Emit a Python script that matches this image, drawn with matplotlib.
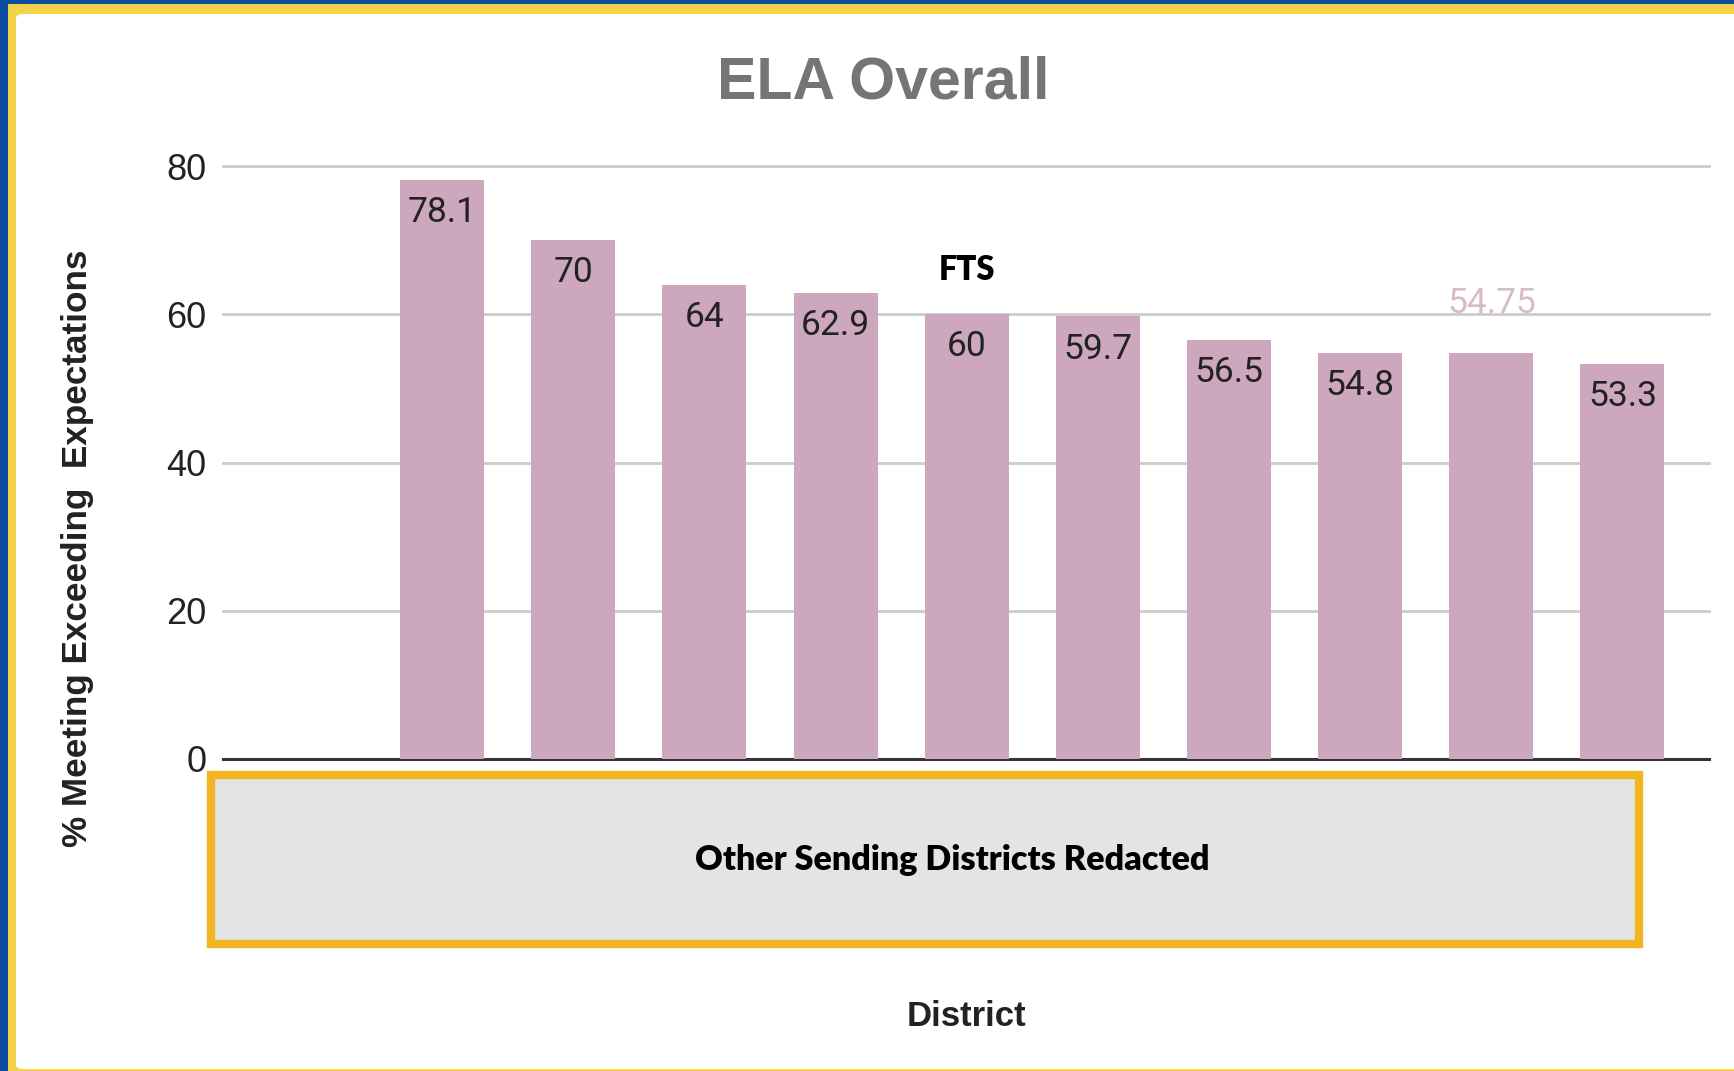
import matplotlib
matplotlib.use("Agg")
import matplotlib.pyplot as plt
from matplotlib.patches import Rectangle, FancyBboxPatch

# ---- data ----
districts = ["", "D1", "D2", "D3", "D4", "FTS", "D6", "D7", "D8", "D9", "D10"]
values = [None, 78.1, 70, 64, 62.9, 60, 59.7, 56.5, 54.8, 54.75, 53.3]
bar_labels = ["", "78.1", "70", "64", "62.9", "60", "59.7", "56.5", "54.8", "", "53.3"]
yticks = [0, 20, 40, 60, 80]
title = "ELA Overall"
ylabel = "% Meeting Exceeding  Expectations"
xlabel = "District"
highlight_name = "FTS"
floating_label = "54.75"
redact_text = "Other Sending Districts Redacted"

W, H = 1734, 1071
fig = plt.figure(figsize=(W / 100, H / 100), dpi=100)
fig.patch.set_facecolor("white")

# ---- frame ----
blue = "#0B4E9F"
yellow = "#F5D349"
fig.patches.append(Rectangle((0, 0), 1, 1, transform=fig.transFigure,
                             facecolor=blue, edgecolor="none", zorder=-10))
fig.patches.append(Rectangle((8 / W, 0), 1, 1 - 4 / H, transform=fig.transFigure,
                             facecolor=yellow, edgecolor="none", zorder=-9))
fig.patches.append(FancyBboxPatch((16 / W, 2 / H), 1 - 16 / W + 0.02, 1 - 14 / H - 2 / H,
                                  boxstyle="round,pad=0,rounding_size=0.004",
                                  transform=fig.transFigure, facecolor="white",
                                  edgecolor="none", zorder=-8))

# ---- axes ----
ax = fig.add_axes([223 / W, 1 - 759 / H, (1709 - 223) / W, (759 - 166) / H])
ax.set_facecolor("none")
x = list(range(len(districts)))
hvals = [v if v is not None else 0 for v in values]
bars = ax.bar(x, hvals, width=0.64, color="#CDA7BE", zorder=3)
ax.set_xlim(-0.671, 10.66)
ax.set_ylim(0, 80)
ax.set_yticks(yticks)
ax.set_yticklabels([str(t) for t in yticks], fontsize=26, family="Liberation Sans", color="#222222")
ax.tick_params(axis="y", length=0, pad=12)
ax.set_xticks([])
for s in ax.spines.values():
    s.set_visible(False)
for t in yticks[1:]:
    ax.axhline(t, color="#CCCCCC", lw=2, zorder=1, clip_on=False)
ax.axhline(0, color="#333333", lw=2.2, zorder=2, clip_on=False)

for b, lab in zip(bars, bar_labels):
    if lab:
        ax.annotate(lab, (b.get_x() + b.get_width() / 2, b.get_height()),
                    xytext=(0, -23.5), textcoords="offset points", ha="center", va="center",
                    fontsize=25.5, family="Roboto", color="#222222", zorder=5)

# FTS label above its bar
fi = districts.index(highlight_name)
ax.annotate(highlight_name, (x[fi], values[fi]), xytext=(0, 32), textcoords="offset points",
            ha="center", va="center", fontsize=23.5, family="Lato", fontweight="heavy",
            color="black", zorder=5)
# light label for 54.75
li = bar_labels.index("", 1)
ax.annotate(floating_label, (x[li], values[li]), xytext=(0, 36), textcoords="offset points",
            ha="center", va="center", fontsize=25.5, family="Roboto", color="#D9BACB", zorder=5)

# ---- texts ----
fig.text(883 / W, 1 - 83 / H, title, ha="center", va="center", fontsize=42.5,
         family="Liberation Sans", fontweight="bold", color="#757575")
fig.text(78 / W, 1 - 548 / H, ylabel, ha="center", va="center", rotation=90, fontsize=25.3,
         family="Liberation Sans", fontweight="bold", color="#222222")
fig.text(966 / W, 1 - 1017 / H, xlabel, ha="center", va="center", fontsize=25,
         family="Liberation Sans", fontweight="bold", color="#222222")

# ---- redaction box ----
fig.patches.append(Rectangle((211 / W, 1 - 944 / H), (1639 - 211) / W, (944 - 775) / H,
                             transform=fig.transFigure, facecolor="#E4E4E4",
                             edgecolor="#F0B521", linewidth=6, zorder=10))
fig.text(952 / W, 1 - 860 / H, redact_text, ha="center", va="center", fontsize=24.6,
         family="Lato", fontweight="heavy", color="black", zorder=11)

fig.savefig("out.png", dpi=100)
